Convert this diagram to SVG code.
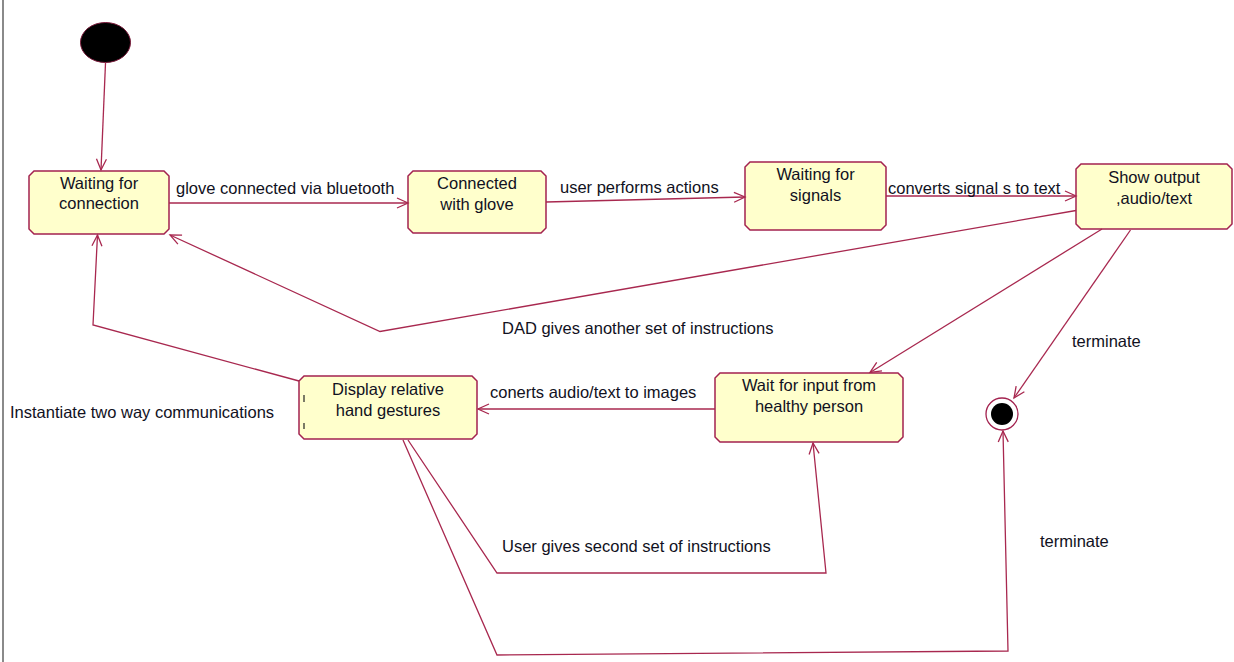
<svg xmlns="http://www.w3.org/2000/svg" width="1234" height="662" viewBox="0 0 1234 662">
  <defs>
    <style>
      .state { fill: #ffffcc; stroke: #a3224f; stroke-width: 1.5; }
      .name { font-family: "Liberation Sans", Arial, sans-serif; font-size: 16.5px; fill: #111122; text-anchor: middle; }
      .label { font-family: "Liberation Sans", Arial, sans-serif; font-size: 16.5px; fill: #111122; }
      .edge { fill: none; stroke: #a8284f; stroke-width: 1.3; }
    </style>
    <marker id="open" viewBox="-12 -6 14 12" markerWidth="14" markerHeight="12" refX="0" refY="0" orient="auto" markerUnits="userSpaceOnUse">
      <path d="M-11,-5 L0,0 L-11,5" fill="none" stroke="#a8284f" stroke-width="1.3"/>
    </marker>
  </defs>

  <rect width="1234" height="662" fill="#ffffff"/>
  <!-- left frame edge -->
  <line x1="3" y1="0" x2="3" y2="662" stroke="#8a8a8a" stroke-width="2"/>

  <!-- initial state -->
  <g id="initial">
    <ellipse cx="105.5" cy="42.5" rx="25" ry="20" fill="#000000" stroke="#7a1a3a" stroke-width="1"/>
  </g>

  <g id="waiting-connection">
    <path class="state" d="M34,171 H164 L169,176 V229 L164,234 H34 L29,229 V176 Z"/>
    <text class="name" x="99" y="189">Waiting for</text>
    <text class="name" x="99" y="209">connection</text>
  </g>

  <g id="connected-glove">
    <path class="state" d="M413,171 H541 L546,176 V228 L541,233 H413 L408,228 V176 Z"/>
    <text class="name" x="477" y="189">Connected</text>
    <text class="name" x="477" y="210">with glove</text>
  </g>

  <g id="waiting-signals">
    <path class="state" d="M750,162 H881 L886,167 V225 L881,230 H750 L745,225 V167 Z"/>
    <text class="name" x="815.5" y="180">Waiting for</text>
    <text class="name" x="815.5" y="201">signals</text>
  </g>

  <g id="show-output">
    <path class="state" d="M1081,164 H1227 L1232,169 V224 L1227,229 H1081 L1076,224 V169 Z"/>
    <text class="name" x="1154" y="183">Show output</text>
    <text class="name" x="1154" y="204">,audio/text</text>
  </g>

  <g id="wait-input">
    <path class="state" d="M720,373 H898 L903,378 V437 L898,442 H720 L715,437 V378 Z"/>
    <text class="name" x="809" y="391">Wait for input from</text>
    <text class="name" x="809" y="412">healthy person</text>
  </g>

  <g id="display-gestures">
    <path class="state" d="M304,376 H472 L477,381 V434 L472,439 H304 L299,434 V381 Z"/>
    <text class="name" x="388" y="395">Display relative</text>
    <text class="name" x="388" y="416">hand gestures</text>
    <line x1="304" y1="395" x2="304" y2="402" stroke="#222222" stroke-width="1.2"/>
    <line x1="304" y1="423" x2="304" y2="429" stroke="#222222" stroke-width="1.2"/>
  </g>

  <!-- final state -->
  <g id="final">
    <circle cx="1002" cy="414" r="16" fill="#ffffff" stroke="#a3224f" stroke-width="1.3"/>
    <circle cx="1002" cy="414" r="11" fill="#000000"/>
  </g>

  <g id="connectors">
    <path class="edge" d="M105.5,63 L101,170" marker-end="url(#open)"/>
    <path class="edge" d="M169,203 L408,203" marker-end="url(#open)"/>
    <path class="edge" d="M546,202 L745,197" marker-end="url(#open)"/>
    <path class="edge" d="M886,196 L1076,196" marker-end="url(#open)"/>
    <path class="edge" d="M1076,210.5 L380,331.5 L170,235" marker-end="url(#open)"/>
    <path class="edge" d="M1102,229 L870,372.5" marker-end="url(#open)"/>
    <path class="edge" d="M1130.5,230 L1014,398" marker-end="url(#open)"/>
    <path class="edge" d="M715,409 L478,409" marker-end="url(#open)"/>
    <path class="edge" d="M299,381 L93,325 L97.5,235" marker-end="url(#open)"/>
    <path class="edge" d="M408,440 L497,573 L826,573 L813,443" marker-end="url(#open)"/>
    <path class="edge" d="M403,440 L497,655 L1008,651 L1003,431" marker-end="url(#open)"/>
  </g>

  <g id="labels">
    <text class="label" x="176" y="194">glove connected via bluetooth</text>
    <text class="label" x="560" y="193">user performs actions</text>
    <text class="label" x="888" y="194">converts signal s to text</text>
    <text class="label" x="502" y="334">DAD gives another set of instructions</text>
    <text class="label" x="1072" y="347">terminate</text>
    <text class="label" x="490" y="398">conerts audio/text to images</text>
    <text class="label" x="10" y="418">Instantiate two way communications</text>
    <text class="label" x="502" y="552">User gives second set of instructions</text>
    <text class="label" x="1040" y="547">terminate</text>
  </g>
</svg>
